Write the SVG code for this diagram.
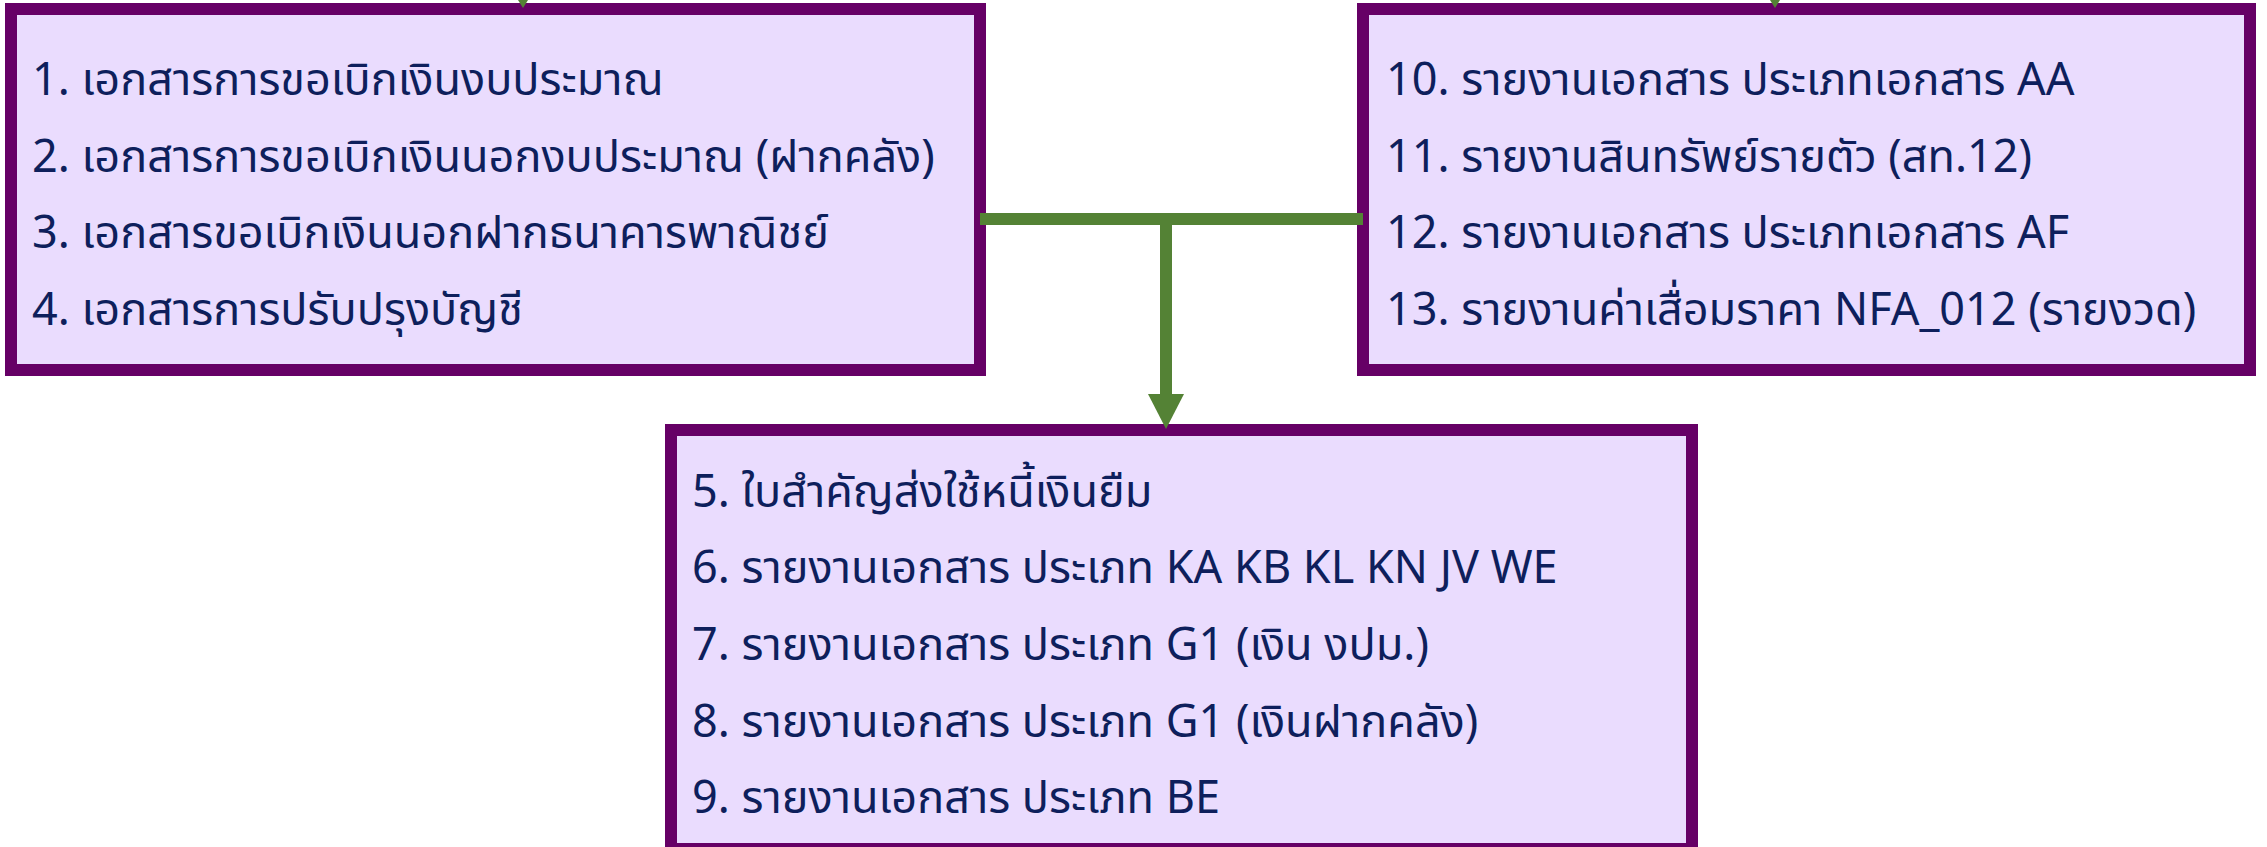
<svg xmlns="http://www.w3.org/2000/svg" width="2267" height="847" viewBox="0 0 2267 847">
<style>
.box{fill:#EADCFE;stroke:#660066;stroke-width:12}
.t{font-family:"Noto Sans Thai","Tahoma","Leelawadee UI","Noto Sans","DejaVu Sans",sans-serif;font-size:45px;fill:#0E1F5C}
.c{stroke:#548235;stroke-width:12;fill:none}
.ah{fill:#548235}
</style>
<rect width="2267" height="847" fill="#FFFFFF"/>
<g id="node-left">
<rect class="box" x="11" y="9" width="969" height="361"/>
<text class="t" x="32" y="95">1. เอกสารการขอเบิกเงินงบประมาณ</text>
<text class="t" x="32" y="172">2. เอกสารการขอเบิกเงินนอกงบประมาณ (ฝากคลัง)</text>
<text class="t" x="32" y="248">3. เอกสารขอเบิกเงินนอกฝากธนาคารพาณิชย์</text>
<text class="t" x="32" y="325">4. เอกสารการปรับปรุงบัญชี</text>
</g>
<g id="node-right">
<rect class="box" x="1363" y="9" width="887" height="361"/>
<text class="t" x="1386" y="95">10. รายงานเอกสาร ประเภทเอกสาร AA</text>
<text class="t" x="1386" y="172">11. รายงานสินทรัพย์รายตัว (สท.12)</text>
<text class="t" x="1386" y="248">12. รายงานเอกสาร ประเภทเอกสาร AF</text>
<text class="t" x="1386" y="325">13. รายงานค่าเสื่อมราคา NFA_012 (รายงวด)</text>
</g>
<g id="node-bottom">
<rect class="box" x="671" y="430" width="1021" height="419"/>
<text class="t" x="692" y="507">5. ใบสำคัญส่งใช้หนี้เงินยืม</text>
<text class="t" x="692" y="583">6. รายงานเอกสาร ประเภท KA KB KL KN JV WE</text>
<text class="t" x="692" y="660">7. รายงานเอกสาร ประเภท G1 (เงิน งปม.)</text>
<text class="t" x="692" y="737">8. รายงานเอกสาร ประเภท G1 (เงินฝากคลัง)</text>
<text class="t" x="692" y="813">9. รายงานเอกสาร ประเภท BE</text>
</g>
<g id="connectors">
<line class="c" x1="980" y1="219" x2="1363" y2="219"/>
<line class="c" x1="1166" y1="219" x2="1166" y2="396"/>
<polygon class="ah" points="1148,394 1184,394 1166,429"/>
<polygon class="ah" points="518,0 528,0 523,8"/>
<polygon class="ah" points="1770,0 1780,0 1775,8"/>
</g>
</svg>
